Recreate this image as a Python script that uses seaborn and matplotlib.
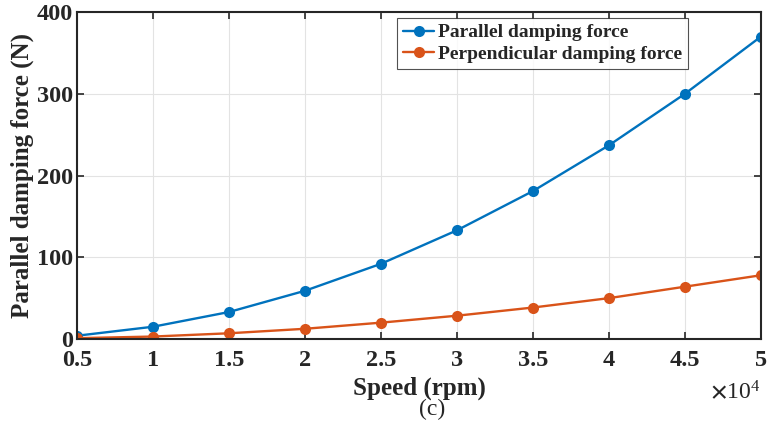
import numpy as np
import pandas as pd
import matplotlib
matplotlib.use('Agg')
import matplotlib.pyplot as plt
import seaborn as sns
from matplotlib.ticker import FuncFormatter

# data
speed = [5000, 10000, 15000, 20000, 25000, 30000, 35000, 40000, 45000, 50000]
parallel = [4, 15, 33, 59, 92, 133, 181, 237, 300, 370]
perpendicular = [1, 3, 7, 12.5, 20, 28.5, 38.5, 50, 64, 78]
series_names = ['Parallel damping force', 'Perpendicular damping force']
colors = ['#0072BD', '#D95319']

df = pd.DataFrame({
    'Speed': speed * 2,
    'Force': parallel + perpendicular,
    'Series': [series_names[0]] * len(speed) + [series_names[1]] * len(speed),
})

sns.set_style('ticks')
plt.rcParams['font.family'] = ['Liberation Serif', 'DejaVu Serif']
plt.rcParams['font.weight'] = 'bold'
plt.rcParams['mathtext.fontset'] = 'stix'

fig = plt.figure(figsize=(7.75, 4.29), dpi=100)
ax = fig.add_axes([77 / 775, 1 - 339 / 429, 684 / 775, 327 / 429])

sns.lineplot(data=df, x='Speed', y='Force', hue='Series', palette=colors,
             marker='o', markersize=8, markeredgewidth=0, linewidth=1.7, ax=ax)

ax.set_xlim(5000, 50000)
ax.set_ylim(0, 400)
ax.set_xticks(speed)
ax.set_yticks([0, 100, 200, 300, 400])
ax.xaxis.set_major_formatter(FuncFormatter(lambda v, p: f'{v / 1e4:g}'))
ax.grid(True, color='#e3e3e3', linewidth=0.8)
ax.set_axisbelow(True)
ax.tick_params(direction='in', top=True, right=True, length=5, width=1.2,
               labelsize=17.5, colors='#262626')
ax.tick_params(axis='x', pad=8)
ax.tick_params(axis='y', pad=3)
for s in ax.spines.values():
    s.set_linewidth(1.5)
    s.set_color('#262626')

ax.set_xlabel('Speed (rpm)', fontsize=18, fontweight='bold', labelpad=4)
ax.set_ylabel('Parallel damping force (N)', fontsize=18, fontweight='bold', labelpad=2)
fig.text(760 / 775, 1 - 392 / 429, r'$\times\mathregular{10^{4}}$', fontsize=17,
         ha='right', va='center', fontweight='normal')
fig.text(432 / 775, 1 - 409 / 429, '(c)', fontsize=17, ha='center', va='center',
         fontweight='normal')

leg = ax.legend(loc='upper left', bbox_to_anchor=(0.468, 0.982), fontsize=14,
                frameon=True, fancybox=False, edgecolor='#262626',
                handlelength=1.6, handletextpad=0.2, borderpad=0.3,
                labelspacing=0.2, borderaxespad=0)
leg.get_frame().set_linewidth(0.8)
for t in leg.get_texts():
    t.set_fontweight('bold')

fig.savefig('out.png', dpi=100)
